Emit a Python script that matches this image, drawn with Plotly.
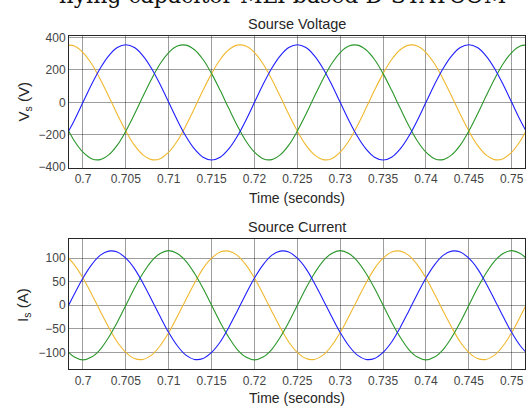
import plotly.graph_objects as go

# Sample times (s)
time_s = [0.698, 0.699, 0.700, 0.701, 0.702, 0.703, 0.704, 0.705, 0.706, 0.707,
          0.708, 0.709, 0.710, 0.711, 0.712, 0.713, 0.714, 0.715, 0.716, 0.717,
          0.718, 0.719, 0.720, 0.721, 0.722, 0.723, 0.724, 0.725, 0.726, 0.727,
          0.728, 0.729, 0.730, 0.731, 0.732, 0.733, 0.734, 0.735, 0.736, 0.737,
          0.738, 0.739, 0.740, 0.741, 0.742, 0.743, 0.744, 0.745, 0.746, 0.747,
          0.748, 0.749, 0.750, 0.751, 0.752]

# Source voltage (V)
vs_blue = [-209, -110, 0, 110, 209, 287, 338, 355, 338, 287, 209, 110, 0, -110, -209, -287, -338, -355, -338, -287,
           -209, -110, 0, 110, 209, 287, 338, 355, 338, 287, 209, 110, 0, -110, -209, -287, -338, -355, -338, -287,
           -209, -110, 0, 110, 209, 287, 338, 355, 338, 287, 209, 110, 0, -110, -209]
vs_green = [-144, -238, -307, -347, -353, -324, -264, -177, -74, 37, 144, 238, 307, 347, 353, 324, 264, 177, 74, -37,
            -144, -238, -307, -347, -353, -324, -264, -177, -74, 37, 144, 238, 307, 347, 353, 324, 264, 177, 74, -37,
            -144, -238, -307, -347, -353, -324, -264, -177, -74, 37, 144, 238, 307, 347, 353]
vs_yellow = [353, 347, 307, 238, 144, 37, -74, -177, -264, -324, -353, -347, -307, -238, -144, -37, 74, 177, 264, 324,
             353, 347, 307, 238, 144, 37, -74, -177, -264, -324, -353, -347, -307, -238, -144, -37, 74, 177, 264, 324,
             353, 347, 307, 238, 144, 37, -74, -177, -264, -324, -353, -347, -307, -238, -144]

# Source current (A)
is_blue = [-12, 24, 58, 86, 106, 115, 113, 100, 78, 47, 12, -24, -58, -86, -106, -115, -113, -100, -78, -47,
           -12, 24, 58, 86, 106, 115, 113, 100, 78, 47, 12, -24, -58, -86, -106, -115, -113, -100, -78, -47,
           -12, 24, 58, 86, 106, 115, 113, 100, 78, 47, 12, -24, -58, -86, -106]
is_green = [-94, -110, -116, -110, -94, -68, -36, 0, 36, 68, 94, 110, 116, 110, 94, 68, 36, 0, -36, -68,
            -94, -110, -116, -110, -94, -68, -36, 0, 36, 68, 94, 110, 116, 110, 94, 68, 36, 0, -36, -68,
            -94, -110, -116, -110, -94, -68, -36, 0, 36, 68, 94, 110, 116, 110, 94]
is_yellow = [106, 86, 58, 24, -12, -47, -78, -100, -113, -115, -106, -86, -58, -24, 12, 47, 78, 100, 113, 115,
             106, 86, 58, 24, -12, -47, -78, -100, -113, -115, -106, -86, -58, -24, 12, 47, 78, 100, 113, 115,
             106, 86, 58, 24, -12, -47, -78, -100, -113, -115, -106, -86, -58, -24, 12]

x_ticks = [0.7, 0.705, 0.71, 0.715, 0.72, 0.725, 0.73, 0.735, 0.74, 0.745, 0.75]
x_tick_labels = ["0.7", "0.705", "0.71", "0.715", "0.72", "0.725", "0.73", "0.735", "0.74", "0.745", "0.75"]
v_ticks = [-400, -200, 0, 200, 400]
i_ticks = [-100, -50, 0, 50, 100]

main_title = "flying capacitor MLI based D-STATCOM"
v_title = "Sourse Voltage"
i_title = "Source Current"
x_title = "Time (seconds)"

BLUE = "#1f1fff"
GREEN = "#2a962a"
YELLOW = "#f0b82e"

fig = go.Figure()
for ys, col in [(vs_yellow, YELLOW), (vs_green, GREEN), (vs_blue, BLUE)]:
    fig.add_trace(go.Scatter(x=time_s, y=ys, mode="lines", line=dict(color=col, width=1.1, shape="spline"),
                             xaxis="x", yaxis="y", showlegend=False, hoverinfo="skip"))
for ys, col in [(is_yellow, YELLOW), (is_green, GREEN), (is_blue, BLUE)]:
    fig.add_trace(go.Scatter(x=time_s, y=ys, mode="lines", line=dict(color=col, width=1.1, shape="spline"),
                             xaxis="x2", yaxis="y2", showlegend=False, hoverinfo="skip"))

tickfont = dict(family="Liberation Sans, Arial, sans-serif", size=12, color="#444444")
gridcol = "rgba(0,0,0,0.38)"
common_x = dict(range=[0.69837, 0.75155], tickvals=x_ticks, ticktext=x_tick_labels, showgrid=True,
                gridcolor=gridcol, gridwidth=1, showline=True, linecolor="#262626", linewidth=1, mirror=True,
                zeroline=False, ticks="", tickfont=tickfont, domain=[0, 1])
common_y = dict(showgrid=True, gridcolor=gridcol, gridwidth=1, showline=True, linecolor="#262626",
                linewidth=1, mirror=True, zeroline=False, ticks="", tickfont=tickfont)

fig.update_layout(
    width=526, height=412,
    margin=dict(l=69, r=0, t=0, b=0),
    paper_bgcolor="white", plot_bgcolor="white",
    xaxis=dict(anchor="y", **common_x),
    yaxis=dict(anchor="x", domain=[0.5934, 0.9231], range=[-405, 410], tickvals=v_ticks, **common_y),
    xaxis2=dict(anchor="y2", **common_x),
    yaxis2=dict(anchor="x2", domain=[0.0915, 0.4167], range=[-136, 141], tickvals=i_ticks, **common_y),
)

lab = dict(family="Liberation Sans, Arial, sans-serif", color="#262626")
fig.add_annotation(text=main_title, xref="paper", yref="paper", x=(283 - 69) / 457, y=1.0,
                   xanchor="center", yanchor="bottom", yshift=-5, showarrow=False,
                   font=dict(family="DejaVu Serif, Liberation Serif, serif", size=22, color="#111111"))
fig.add_annotation(text=v_title, xref="paper", yref="paper", x=0.5, y=1 - 20 / 412, xanchor="center",
                   yanchor="middle", showarrow=False, font=dict(size=14.5, **lab))
fig.add_annotation(text=i_title, xref="paper", yref="paper", x=0.5, y=1 - 228 / 412, xanchor="center",
                   yanchor="middle", showarrow=False, font=dict(size=14.5, **lab))
fig.add_annotation(text=x_title, xref="paper", yref="paper", x=0.5, y=1 - 198 / 412, xanchor="center",
                   yanchor="middle", showarrow=False, font=dict(size=14, **lab))
fig.add_annotation(text=x_title, xref="paper", yref="paper", x=0.5, y=1 - 404 / 412, xanchor="center",
                   yanchor="middle", showarrow=False, font=dict(size=14, **lab))
fig.add_annotation(text="V<sub>s</sub> (V)", xref="paper", yref="paper", x=-(69 - 24) / 457, y=1 - 100 / 412,
                   xanchor="center", yanchor="middle", textangle=-90, showarrow=False, font=dict(size=15, **lab))
fig.add_annotation(text="I<sub>s</sub> (A)", xref="paper", yref="paper", x=-(69 - 24) / 457, y=1 - 308 / 412,
                   xanchor="center", yanchor="middle", textangle=-90, showarrow=False, font=dict(size=15, **lab))

fig.write_html("out.html", config={"displayModeBar": False},
               post_script="document.body.style.margin='0';document.body.style.overflow='hidden';")
